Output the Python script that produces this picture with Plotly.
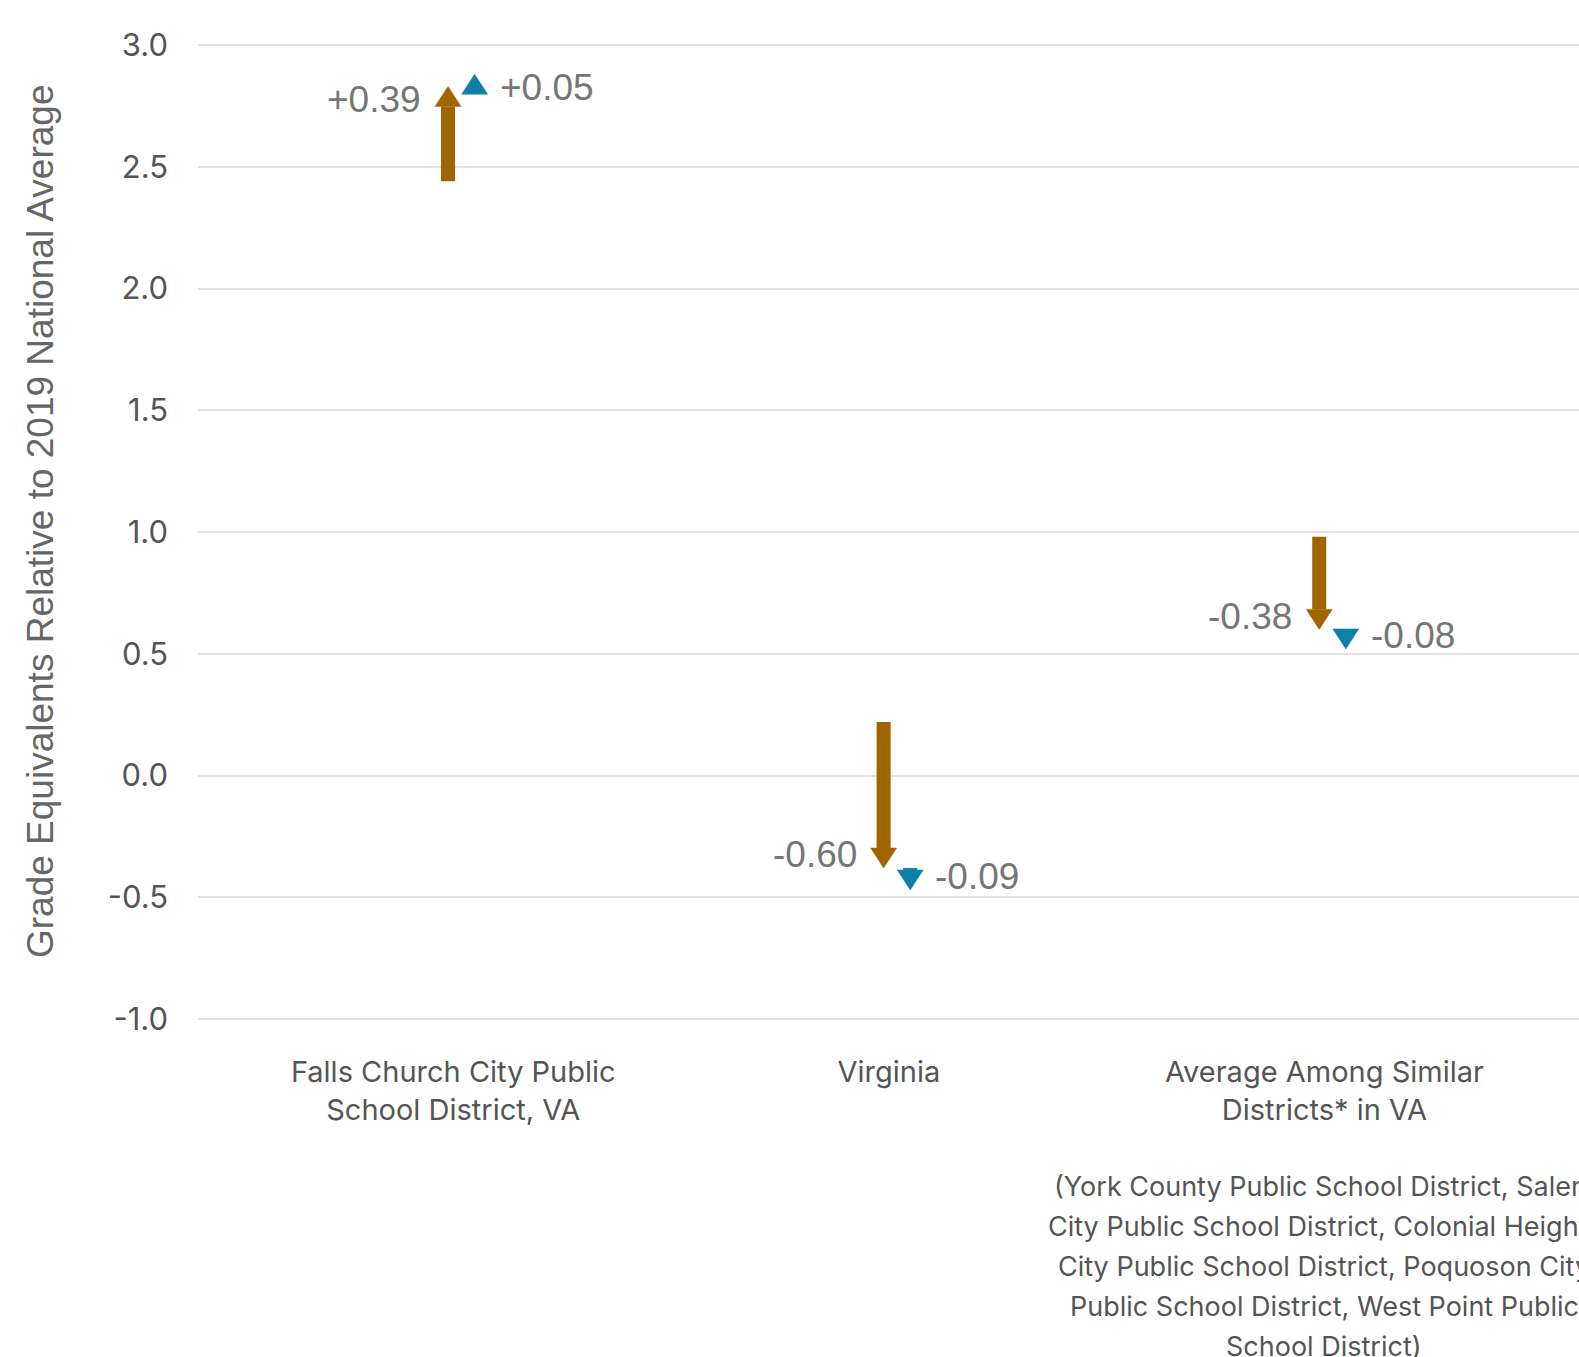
import plotly.graph_objects as go

# ---------------- data ----------------
categories = [
    "Falls Church City Public<br>School District, VA",
    "Virginia",
    "Average Among Similar<br>Districts* in VA",
]
start_values = [2.44, 0.22, 0.98]      # where the brown arrow starts
brown_changes = [0.39, -0.60, -0.38]   # brown arrow change
blue_changes = [0.05, -0.09, -0.08]    # blue arrow change (starts where brown ends)
y_ticks = [-1.0, -0.5, 0.0, 0.5, 1.0, 1.5, 2.0, 2.5, 3.0]
y_title = "Grade Equivalents Relative to 2019 National Average"
note_lines = [
    "(York County Public School District, Salem",
    "City Public School District, Colonial Heights",
    "City Public School District, Poquoson City",
    "Public School District, West Point Public",
    "School District)",
]

# ---------------- style / layout ----------------
W, H = 1579, 1357
EDGE_PAD = 5                       # px so that the 3.0 / -1.0 gridlines are drawn
PLOT_TOP, PLOT_BOTTOM = 45, 1019   # y of the 3.0 and -1.0 gridlines
PX_PER_UNIT = (PLOT_BOTTOM - PLOT_TOP) / 4.0
PX_PER_CAT = 435.6
ML, MR = 198, 0
MT, MB = PLOT_TOP - EDGE_PAD, H - PLOT_BOTTOM - EDGE_PAD
X_LEFT = -0.586
X_RANGE = [X_LEFT, X_LEFT + (W - ML - MR) / PX_PER_CAT]
Y_RANGE = [-1.0 - EDGE_PAD / PX_PER_UNIT, 3.0 + EDGE_PAD / PX_PER_UNIT]
BROWN = "#A16500"
BLUE = "#0E80A8"
LABEL_GREY = "#767676"
TEXT_GREY = "#555555"
SANS = "Liberation Sans, Arial"

px_x = (W - ML - MR) / (X_RANGE[1] - X_RANGE[0])
px_y = (H - MT - MB) / (Y_RANGE[1] - Y_RANGE[0])

BROWN_OFF = -0.012
BLUE_OFF = 0.049
HEAD_W = 26 / px_x
HEAD_H = 20 / px_y
SHAFT_W = 14

fig = go.Figure()
annotations = []


def sign(v):
    return 1 if v >= 0 else -1


def add_arrow(xc, y0, change, color):
    y1 = y0 + change
    s = sign(change)
    base = y1 - s * HEAD_H
    if (base - y0) * s > 0:
        fig.add_trace(go.Scatter(
            x=[xc, xc], y=[y0, base], mode="lines",
            line=dict(color=color, width=SHAFT_W),
            hoverinfo="skip", showlegend=False))
    fig.add_trace(go.Scatter(
        x=[xc - HEAD_W / 2, xc + HEAD_W / 2, xc, xc - HEAD_W / 2],
        y=[base, base, y1, base],
        mode="lines", fill="toself", fillcolor=color,
        line=dict(color=color, width=0.5),
        hoverinfo="skip", showlegend=False))
    return y1, y1 - s * HEAD_H * 2 / 3


for i, (st, bc, lc) in enumerate(zip(start_values, brown_changes, blue_changes)):
    bx = i + BROWN_OFF
    end_brown, lab_y = add_arrow(bx, st, bc, BROWN)
    annotations.append(dict(
        x=bx - HEAD_W / 2, y=lab_y, xref="x", yref="y",
        text=f"{bc:+.2f}", showarrow=False, xanchor="right", yanchor="middle",
        xshift=-12, font=dict(family=SANS, size=37, color=LABEL_GREY)))
    ux = i + BLUE_OFF
    _, lab_y2 = add_arrow(ux, end_brown, lc, BLUE)
    annotations.append(dict(
        x=ux + HEAD_W / 2, y=lab_y2, xref="x", yref="y",
        text=f"{lc:+.2f}", showarrow=False, xanchor="left", yanchor="middle",
        xshift=10, font=dict(family=SANS, size=37, color=LABEL_GREY)))

# y-axis title (centred slightly above the middle of the plot)
plot_h = H - MT - MB
title_y = (H - MB - (PLOT_TOP + PLOT_BOTTOM) / 2 + 11) / plot_h
annotations.append(dict(
    x=0, y=title_y, xref="paper", yref="paper", xshift=-158,
    text=y_title, textangle=-90, showarrow=False,
    xanchor="center", yanchor="middle",
    font=dict(family=SANS, size=37, color="#666666")))

# note under third category
for k, line in enumerate(note_lines):
    annotations.append(dict(
        x=2, y=0, xref="x", yref="paper", yshift=-(167 - EDGE_PAD) - 40 * k,
        text=line, showarrow=False, xanchor="center", yanchor="middle",
        font=dict(family="Inter", size=27, color=TEXT_GREY)))

fig.update_layout(
    width=W, height=H,
    margin=dict(l=ML, r=MR, t=MT, b=MB, pad=0),
    paper_bgcolor="white", plot_bgcolor="white",
    annotations=annotations,
    xaxis=dict(
        range=X_RANGE, tickmode="array", tickvals=list(range(len(categories))),
        ticktext=categories, showgrid=False, zeroline=False, showline=False,
        ticks="", ticklabelstandoff=28,
        tickfont=dict(family="Inter", size=29, color=TEXT_GREY)),
    yaxis=dict(
        range=Y_RANGE, tickmode="array", tickvals=y_ticks,
        ticktext=[f"{v:.1f}" for v in y_ticks],
        showgrid=True, gridcolor="#e2e2e2", gridwidth=2,
        zeroline=False, showline=False, ticks="", ticklabelstandoff=29,
        tickfont=dict(family="Inter", size=31, color=TEXT_GREY)),
)

fig.write_html(
    "out.html",
    config={"displayModeBar": False},
    post_script="document.body.style.margin='0';"
                "document.documentElement.style.overflow='hidden';",
)
